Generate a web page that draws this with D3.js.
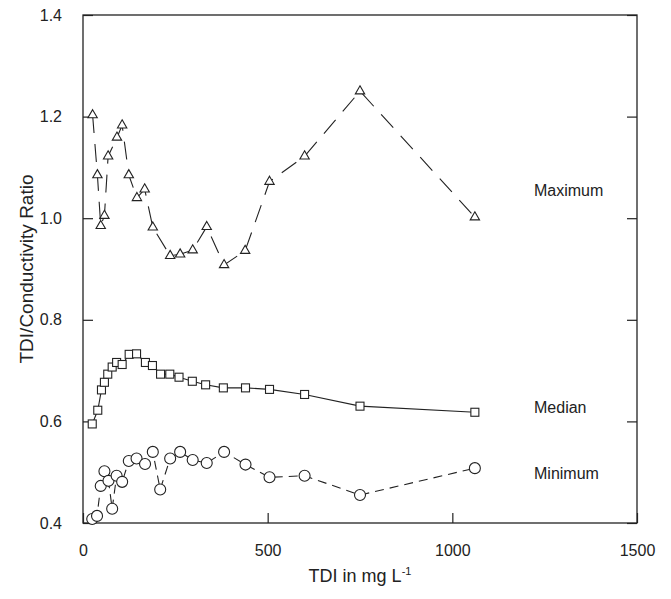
<!DOCTYPE html>
<html>
<head>
<meta charset="utf-8">
<script src="https://cdn.jsdelivr.net/npm/d3@7"></script>
<style>
  body { margin: 0; background: #fff; }
  text { font-family: "Liberation Sans", Arial, sans-serif; fill: #222; }
</style>
</head>
<body>
<svg id="chart" width="671" height="599"></svg>
<script>
// TDI (mg/L) and ratio values
var maxTdi = [26, 39, 48, 58, 68, 92, 106, 124, 146, 167, 189, 236, 263, 297, 335, 382, 439, 505, 600, 750, 1061];
var maxRatio = [1.203, 1.085, 0.985, 1.005, 1.122, 1.159, 1.183, 1.085, 1.040, 1.057, 0.982, 0.926, 0.929, 0.937, 0.983, 0.908, 0.936, 1.072, 1.122, 1.250, 1.002];

var medTdi = [25, 40, 50, 58, 67, 79, 91, 106, 125, 145, 169, 188, 210, 235, 260, 296, 332, 380, 440, 505, 600, 750, 1061];
var medRatio = [0.595, 0.622, 0.662, 0.677, 0.693, 0.707, 0.716, 0.712, 0.732, 0.733, 0.716, 0.710, 0.693, 0.693, 0.687, 0.679, 0.672, 0.666, 0.666, 0.663, 0.653, 0.630, 0.618];

var minTdi = [25, 38, 48, 58, 69, 79, 91, 106, 124, 145, 168, 189, 209, 236, 263, 297, 335, 382, 440, 505, 600, 750, 1061];
var minRatio = [0.408, 0.414, 0.473, 0.502, 0.483, 0.428, 0.493, 0.481, 0.522, 0.527, 0.516, 0.540, 0.466, 0.527, 0.540, 0.524, 0.518, 0.540, 0.515, 0.490, 0.493, 0.455, 0.508];

var xTicks = [0, 500, 1000, 1500];
var yTicks = [0.4, 0.6, 0.8, 1.0, 1.2, 1.4];
var seriesNames = ["Maximum", "Median", "Minimum"];

var svg = d3.select("#chart");
var margin = {top: 15, right: 34, bottom: 76, left: 83};
var width = 671 - margin.left - margin.right,
    height = 599 - margin.top - margin.bottom;

var x = d3.scaleLinear().domain([0, 1500]).range([0, width]);
var y = d3.scaleLinear().domain([0.4, 1.4]).range([height, 0]);

var g = svg.append("g")
  .attr("transform", "translate(" + margin.left + "," + margin.top + ")");

// frame
g.append("rect")
  .attr("width", width).attr("height", height)
  .attr("fill", "none").attr("stroke", "#222").attr("stroke-width", 1.3);

// axes, ticks pointing inward
var xAxis = g.append("g")
  .attr("transform", "translate(0," + height + ")")
  .call(d3.axisBottom(x).tickValues(xTicks).tickSize(-10).tickPadding(22).tickFormat(d3.format("d")));
var yAxis = g.append("g")
  .call(d3.axisLeft(y).tickValues(yTicks).tickSize(-10).tickPadding(21).tickFormat(d3.format(".1f")));
var yAxisR = g.append("g")
  .attr("transform", "translate(" + width + ",0)")
  .call(d3.axisRight(y).tickValues(yTicks).tickSize(-10).tickFormat(""));

[xAxis, yAxis, yAxisR].forEach(function(a) {
  a.select(".domain").remove();
  a.selectAll(".tick line").attr("stroke", "#222").attr("stroke-width", 1.2);
  a.selectAll(".tick text").style("font-size", "16px").attr("fill", "#222");
});

function makeSeries(xs, ys) {
  return xs.map(function(d, i) { return {x: d, y: ys[i]}; });
}
var maxData = makeSeries(maxTdi, maxRatio),
    medData = makeSeries(medTdi, medRatio),
    minData = makeSeries(minTdi, minRatio);

var line = d3.line()
  .x(function(d) { return x(d.x); })
  .y(function(d) { return y(d.y); });

g.append("path").datum(maxData).attr("d", line)
  .attr("fill", "none").attr("stroke", "#222").attr("stroke-width", 1.1)
  .attr("stroke-dasharray", "18,11");
g.append("path").datum(medData).attr("d", line)
  .attr("fill", "none").attr("stroke", "#222").attr("stroke-width", 1.1);
g.append("path").datum(minData).attr("d", line)
  .attr("fill", "none").attr("stroke", "#222").attr("stroke-width", 1.1)
  .attr("stroke-dasharray", "9,6");

// markers
var tri = d3.symbol().type(d3.symbolTriangle).size(38);
g.selectAll(".tri").data(maxData).enter().append("path")
  .attr("class", "tri")
  .attr("d", tri)
  .attr("transform", function(d) { return "translate(" + x(d.x) + "," + y(d.y) + ")"; })
  .attr("fill", "#fff").attr("stroke", "#222").attr("stroke-width", 1.1);

g.selectAll(".sq").data(medData).enter().append("rect")
  .attr("class", "sq")
  .attr("x", function(d) { return x(d.x) - 4; })
  .attr("y", function(d) { return y(d.y) - 4; })
  .attr("width", 8).attr("height", 8)
  .attr("fill", "#fff").attr("stroke", "#222").attr("stroke-width", 1.1);

g.selectAll(".circ").data(minData).enter().append("circle")
  .attr("class", "circ")
  .attr("cx", function(d) { return x(d.x); })
  .attr("cy", function(d) { return y(d.y); })
  .attr("r", 5.5)
  .attr("fill", "#fff").attr("stroke", "#222").attr("stroke-width", 1.1);

// series labels
var labelY = [1.055, 0.628, 0.498];
g.selectAll(".slabel").data(seriesNames).enter().append("text")
  .attr("class", "slabel")
  .attr("x", 451)
  .attr("y", function(d, i) { return y(labelY[i]); })
  .attr("dy", "0.35em")
  .style("font-size", "16px")
  .text(function(d) { return d; });

// axis titles
svg.append("text")
  .attr("transform", "translate(26," + (margin.top + height / 2) + ") rotate(-90)")
  .attr("text-anchor", "middle")
  .attr("dy", "0.35em")
  .style("font-size", "19px")
  .text("TDI/Conductivity Ratio");

var xl = svg.append("text")
  .attr("x", margin.left + width / 2)
  .attr("y", 582)
  .attr("text-anchor", "middle")
  .style("font-size", "18px");
xl.append("tspan").text("TDI in mg L");
xl.append("tspan").attr("dy", "-7").style("font-size", "11px").text("-1");
</script>
</body>
</html>
